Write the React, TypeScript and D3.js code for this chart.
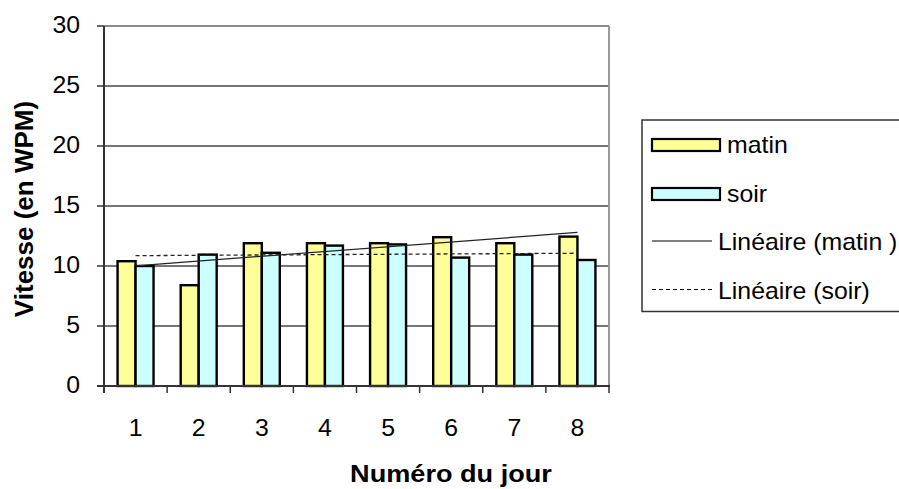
import React from "react";
import * as d3 from "d3";

const days = ["1", "2", "3", "4", "5", "6", "7", "8"];
const matin = [10.4, 8.4, 11.9, 11.9, 11.9, 12.4, 11.9, 12.45];
const soir = [10.0, 10.95, 11.1, 11.7, 11.8, 10.7, 10.95, 10.5];
const yTicks = [0, 5, 10, 15, 20, 25, 30];
const seriesNames = ["matin", "soir"];
const trendNames = ["Linéaire (matin )", "Linéaire (soir)"];

const W = 899, H = 489;
const M = { left: 104, right: 609, top: 26, bottom: 386 };
const FONT = "Arial, 'Liberation Sans', sans-serif";
const colors = ["#FFFF99", "#CCFFFF"];

function linReg(vals: number[]) {
  const xs = vals.map((_, i) => i + 1);
  const mx = d3.mean(xs)!;
  const my = d3.mean(vals)!;
  let sxy = 0, sxx = 0;
  xs.forEach((x, i) => { sxy += (x - mx) * (vals[i] - my); sxx += (x - mx) ** 2; });
  const b = sxy / sxx;
  const a = my - b * mx;
  return (x: number) => a + b * x;
}

function T(props: any) {
  const { x, y, children, anchor = "start", size = 23, weight = "normal", sx = 1.08 } = props;
  return (
    <text
      transform={`translate(${x},${y}) scale(${sx},1)`}
      textAnchor={anchor}
      fontSize={size}
      fontWeight={weight}
      fontFamily={FONT}
      fill="#000"
    >
      {children}
    </text>
  );
}

export default function App() {
  const x0 = d3.scaleBand().domain(days).range([M.left, M.right]).paddingInner(0).paddingOuter(0);
  const y = d3.scaleLinear().domain([0, 30]).range([M.bottom, M.top]);
  const bw = x0.bandwidth();
  const groupW = bw * 0.57;
  const x1 = d3.scaleBand().domain(seriesNames).range([0, groupW]);
  const data = [matin, soir];
  const trends = data.map(linReg);
  const cx = (d: string) => x0(d)! + bw / 2;
  const ends = [days[0], days[days.length - 1]];
  const trendPath = (k: number) =>
    d3.line<string>().x((d) => cx(d)).y((d) => y(trends[k](+d)))(ends) || "";

  return (
    <svg width={W} height={H} style={{ position: "absolute", left: 0, top: 0, background: "#fff" }}>
      <rect x={0} y={0} width={W} height={H} fill="#fff" />
      {yTicks.filter((t) => t > 0).map((t) => (
        <line key={t} x1={M.left} x2={M.right} y1={y(t)} y2={y(t)}
          stroke={t === 30 ? "#8a8a8a" : "#4a4a4a"} strokeWidth={t === 30 ? 2 : 1.6} />
      ))}
      <line x1={M.right} x2={M.right} y1={M.top} y2={M.bottom} stroke="#999" strokeWidth={2} />
      {data.map((vals, si) =>
        vals.map((v, i) => (
          <rect key={`${si}-${i}`}
            x={x0(days[i])! + (bw - groupW) / 2 + x1(seriesNames[si])!}
            y={y(v)} width={x1.bandwidth()} height={y(0) - y(v)}
            fill={colors[si]} stroke="#000" strokeWidth={2.4} />
        ))
      )}
      <path d={trendPath(0)} fill="none" stroke="#222" strokeWidth={1.2} />
      <path d={trendPath(1)} fill="none" stroke="#222" strokeWidth={1.3} strokeDasharray="4,3" />
      <line x1={M.left} x2={M.left} y1={M.top} y2={M.bottom + 7} stroke="#333" strokeWidth={2} />
      <line x1={M.left - 7} x2={M.right + 1} y1={M.bottom} y2={M.bottom} stroke="#333" strokeWidth={2} />
      {yTicks.map((t) => (
        <g key={t}>
          <line x1={M.left - 7} x2={M.left} y1={y(t)} y2={y(t)} stroke="#333" strokeWidth={1.5} />
          <T x={80} y={y(t) + 7} anchor="end">{t}</T>
        </g>
      ))}
      {days.map((d) => (
        <g key={d}>
          <line x1={x0(d)! + bw} x2={x0(d)! + bw} y1={M.bottom} y2={M.bottom + 7} stroke="#333" strokeWidth={1.5} />
          <T x={cx(d)} y={436} anchor="middle">{d}</T>
        </g>
      ))}
      <T x={451} y={482} anchor="middle" size={24} weight="bold" sx={1.13}>Numéro du jour</T>
      <text transform={`translate(33,209) rotate(-90)`} textAnchor="middle" fontSize={26}
        fontWeight="bold" fontFamily={FONT}>Vitesse (en WPM)</text>
      <rect x={642} y={120} width={270} height={191.5} fill="#fff" stroke="#333" strokeWidth={1.5} />
      {seriesNames.map((s, i) => (
        <g key={s}>
          <rect x={652} y={139 + i * 49} width={68} height={12} fill={colors[i]} stroke="#000" strokeWidth={2.2} />
          <T x={727} y={153 + i * 49}>{s}</T>
        </g>
      ))}
      {trendNames.map((s, i) => (
        <g key={s}>
          <line x1={652} x2={712} y1={241 + i * 48.5} y2={241 + i * 48.5} stroke="#000" strokeWidth={1}
            strokeDasharray={i === 1 ? "4,3" : undefined} />
          <T x={718} y={250 + i * 48.5}>{s}</T>
        </g>
      ))}
    </svg>
  );
}
